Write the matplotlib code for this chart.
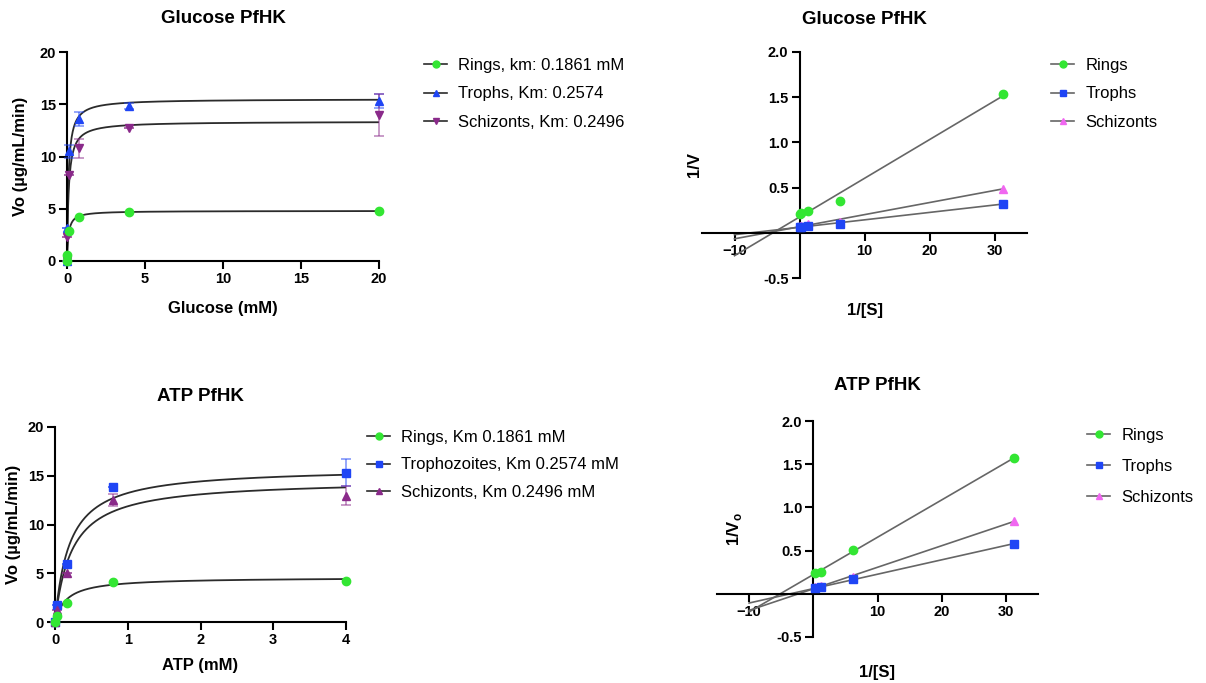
import numpy as np
import matplotlib
matplotlib.use("Agg")
import matplotlib.pyplot as plt
from matplotlib.lines import Line2D

plt.rcParams['font.family'] = ['Liberation Sans', 'DejaVu Sans']

GREEN = '#33e633'
BLUE = '#1f45f5'
PURPLE = '#8a2a8a'
PINK = '#f067f0'
CURVE = '#2b2b2b'
LB_LINE = '#666666'

# Michaelis-Menten data: glucose
glc_conc = [0, 0.032, 0.16, 0.8, 4, 20]
glc_rings = [0, 0.6, 2.9, 4.2, 4.65, 4.75]
glc_trophs = [0, 3.2, 10.5, 13.6, 14.8, 15.3]
glc_trophs_err = [0, 0, 0.6, 0.7, 0.3, 0.7]
glc_schiz = [0, 2.3, 8.2, 10.8, 12.7, 13.95]
glc_schiz_err = [0, 0, 0, 0.9, 0, 2.0]
# fitted curve parameters (Vmax, Km)
glc_fit = {'rings': (4.8, 0.093), 'trophs': (15.5, 0.092), 'schiz': (13.35, 0.108)}

# Michaelis-Menten data: ATP
atp_conc = [0, 0.032, 0.16, 0.8, 4]
atp_rings = [0, 0.65, 1.95, 4.15, 4.2]
atp_trophs = [0, 1.7, 5.9, 13.8, 15.3]
atp_trophs_err = [0, 0, 0, 0, 1.4]
atp_schiz = [0, 1.2, 5.0, 12.5, 12.95]
atp_schiz_err = [0, 0, 0, 0.6, 1.0]
atp_fit = {'rings': (4.58, 0.157), 'trophs': (15.85, 0.198), 'schiz': (14.6, 0.23)}

# Lineweaver-Burk data
lb_glc_x = [0.05, 0.25, 1.25, 6.25, 31.25]
lb_glc_rings = [0.21, 0.215, 0.24, 0.35, 1.53]
lb_glc_trophs = [0.065, 0.068, 0.074, 0.10, 0.32]
lb_glc_schiz = [0.072, 0.079, 0.093, 0.124, 0.49]

lb_atp_x = [0.25, 1.25, 6.25, 31.25]
lb_atp_rings = [0.245, 0.25, 0.51, 1.57]
lb_atp_trophs = [0.065, 0.075, 0.17, 0.58]
lb_atp_schiz = [0.078, 0.085, 0.20, 0.84]

W, H = 1206, 683
fig = plt.figure(figsize=(W / 100, H / 100), dpi=100)


def px_axes(x0, x1, ytop, ybot):
    return fig.add_axes([x0 / W, 1 - ybot / H, (x1 - x0) / W, (ybot - ytop) / H])


def style_ticks(ax):
    ax.tick_params(direction='out', length=6, width=1.5, labelsize=10.5, pad=2)
    for lab in ax.get_xticklabels() + ax.get_yticklabels():
        lab.set_fontweight('bold')


def mm_panel(ax, conc, series, fits, xmax, xticks, xlabel, title, title_pad):
    ax.set_xlim(0, xmax)
    ax.set_ylim(0, 20)
    xs = np.linspace(0, xmax, 600)
    for key, y, err, color, marker in series:
        vmax, km = fits[key]
        ax.plot(xs, vmax * xs / (km + xs), color=CURVE, lw=1.3, zorder=2)
        if err is not None:
            ax.errorbar(conc, y, yerr=err, fmt='none', ecolor=color, alpha=0.55,
                        elinewidth=1.2, capsize=3.5, capthick=1.2, zorder=3, clip_on=False)
        ax.plot(conc, y, ls='none', marker=marker, color=color, ms=6, zorder=4, clip_on=False)
    for s in ['top', 'right']:
        ax.spines[s].set_visible(False)
    for s in ['left', 'bottom']:
        ax.spines[s].set_linewidth(1.5)
    ax.set_xticks(xticks)
    ax.set_yticks([0, 5, 10, 15, 20])
    style_ticks(ax)
    ax.set_xlabel(xlabel, fontsize=12, fontweight='bold', labelpad=11)
    ax.set_ylabel('Vo (µg/mL/min)', fontsize=12, fontweight='bold', labelpad=8)
    ax.set_title(title, fontsize=13.5, fontweight='bold', pad=title_pad)


def lb_panel(ax, xdata, series, ylabel, title, ylab_pos, xlab_y, title_pad):
    ax.set_xlim(-15, 35)
    ax.set_ylim(-0.5, 2.0)
    # linear regression lines, extended back to x = -10
    for y, color, marker in series:
        slope, icpt = np.polyfit(xdata, y, 1)
        xl = np.array([-10, max(xdata)])
        ax.plot(xl, slope * xl + icpt, color=LB_LINE, lw=1.2, zorder=2)
    for y, color, marker in series[::-1]:
        ax.plot(xdata, y, ls='none', marker=marker, color=color, ms=6, zorder=4, clip_on=False)
    ax.spines['left'].set_position(('data', 0))
    ax.spines['bottom'].set_position(('data', 0))
    for s in ['top', 'right']:
        ax.spines[s].set_visible(False)
    for s in ['left', 'bottom']:
        ax.spines[s].set_linewidth(1.5)
    ax.set_xticks([-10, 10, 20, 30])
    ax.set_yticks([-0.5, 0.5, 1.0, 1.5, 2.0])
    ax.set_yticklabels(['-0.5', '0.5', '1.0', '1.5', '2.0'])
    style_ticks(ax)
    ax.set_xlabel('1/[S]', fontsize=12, fontweight='bold')
    ax.xaxis.set_label_coords(0.5, xlab_y)
    ax.set_ylabel(ylabel, fontsize=12, fontweight='bold')
    ax.yaxis.set_label_coords(*ylab_pos)
    ax.set_title(title, fontsize=13.5, fontweight='bold', pad=title_pad)


def add_legend(ax, entries, x, ytop, line_color, spacing=0.8):
    handles = [Line2D([], [], color=line_color, lw=1.2, marker=m, mfc=c, mec=c, ms=5)
               for _, c, m in entries]
    labels = [lab for lab, _, _ in entries]
    ax.legend(handles, labels, loc='upper left', bbox_to_anchor=(x / W, 1 - ytop / H),
              bbox_transform=fig.transFigure, frameon=False, fontsize=12,
              handlelength=1.4, handletextpad=0.65, labelspacing=spacing,
              borderpad=0, borderaxespad=0)


# top-left: glucose MM
ax1 = px_axes(67, 379, 52, 261)
mm_panel(ax1, glc_conc,
         [('trophs', glc_trophs, glc_trophs_err, BLUE, '^'),
          ('schiz', glc_schiz, glc_schiz_err, PURPLE, 'v'),
          ('rings', glc_rings, None, GREEN, 'o')],
         glc_fit, 20, [0, 5, 10, 15, 20], 'Glucose (mM)', 'Glucose PfHK', 21)
add_legend(ax1, [('Rings, km: 0.1861 mM', GREEN, 'o'),
                 ('Trophs, Km: 0.2574', BLUE, '^'),
                 ('Schizonts, Km: 0.2496', PURPLE, 'v')], 424, 58, CURVE)

# bottom-left: ATP MM
ax3 = px_axes(55, 346, 427, 622)
mm_panel(ax3, atp_conc,
         [('trophs', atp_trophs, atp_trophs_err, BLUE, 's'),
          ('schiz', atp_schiz, atp_schiz_err, PURPLE, '^'),
          ('rings', atp_rings, None, GREEN, 'o')],
         atp_fit, 4, [0, 1, 2, 3, 4], 'ATP (mM)', 'ATP PfHK', 19)
ax3.xaxis.labelpad = 8
ax3.yaxis.labelpad = 5
add_legend(ax3, [('Rings, Km 0.1861 mM', GREEN, 'o'),
                 ('Trophozoites, Km 0.2574 mM', BLUE, 's'),
                 ('Schizonts, Km 0.2496 mM', PURPLE, '^')], 367, 430, CURVE, spacing=0.75)

# top-right: glucose Lineweaver-Burk
ax2 = px_axes(702, 1027, 52, 278)
lb_panel(ax2, lb_glc_x,
         [(lb_glc_rings, GREEN, 'o'), (lb_glc_trophs, BLUE, 's'), (lb_glc_schiz, PINK, '^')],
         '1/V', 'Glucose PfHK', (0.0, 0.5), -0.11, 20)
add_legend(ax2, [('Rings', GREEN, 'o'), ('Trophs', BLUE, 's'), ('Schizonts', PINK, '^')],
           1051, 58, LB_LINE)

# bottom-right: ATP Lineweaver-Burk
ax4 = px_axes(717, 1038, 421, 637)
lb_panel(ax4, lb_atp_x,
         [(lb_atp_rings, GREEN, 'o'), (lb_atp_trophs, BLUE, 's'), (lb_atp_schiz, PINK, '^')],
         r'1/V$_\mathregular{o}$', 'ATP PfHK', (0.085, 0.5), -0.13, 22)
add_legend(ax4, [('Rings', GREEN, 'o'), ('Trophs', BLUE, 's'), ('Schizonts', PINK, '^')],
           1087, 428, LB_LINE, spacing=0.95)

fig.savefig('out.png', dpi=100)
